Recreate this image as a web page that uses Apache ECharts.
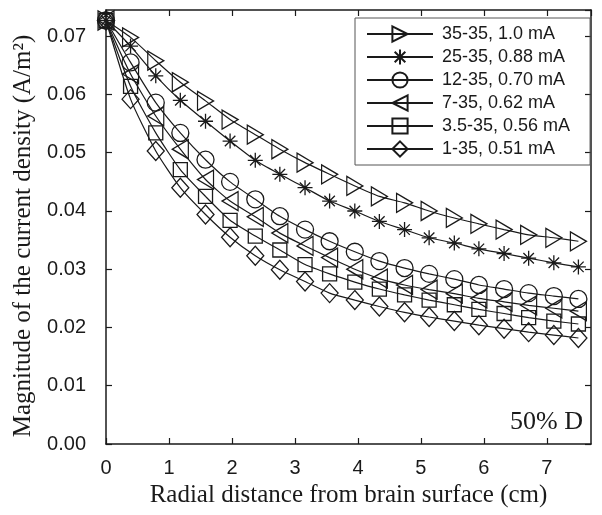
<!DOCTYPE html>
<html>
<head>
<meta charset="utf-8">
<script src="https://cdn.jsdelivr.net/npm/echarts@6/dist/echarts.min.js"></script>
<style>
  html, body { margin: 0; padding: 0; background: #fff; }
  #chart { width: 602px; height: 515px; }
</style>
</head>
<body>
<div id="chart"></div>
<script>
// radial distance (cm) of each sample
const distance = [0, 0.39, 0.79, 1.18, 1.58, 1.97, 2.37, 2.76, 3.16, 3.55,
  3.95, 4.34, 4.74, 5.13, 5.53, 5.92, 6.32, 6.71, 7.11, 7.5]

// current density magnitude (A/m^2)
const s35 = [0.0727, 0.0698, 0.0658, 0.0621, 0.0589, 0.0557, 0.0531, 0.0506, 0.0483, 0.0463,
  0.0443, 0.0425, 0.0414, 0.0400, 0.0388, 0.0378, 0.0368, 0.0359, 0.0354, 0.0348]
const s25 = [0.0727, 0.0683, 0.0632, 0.0590, 0.0554, 0.0520, 0.0487, 0.0463, 0.0440, 0.0417,
  0.0400, 0.0382, 0.0368, 0.0354, 0.0345, 0.0335, 0.0327, 0.0319, 0.0311, 0.0304]
const s12 = [0.0727, 0.0655, 0.0586, 0.0534, 0.0488, 0.0450, 0.0420, 0.0391, 0.0368, 0.0348,
  0.0330, 0.0314, 0.0302, 0.0292, 0.0283, 0.0273, 0.0266, 0.0259, 0.0254, 0.0249]
const s7 = [0.0727, 0.0635, 0.0563, 0.0506, 0.0454, 0.0417, 0.0390, 0.0362, 0.0340, 0.0320,
  0.0300, 0.0284, 0.0273, 0.0265, 0.0258, 0.0250, 0.0244, 0.0238, 0.0233, 0.0228]
const s35b = [0.0727, 0.0614, 0.0534, 0.0471, 0.0425, 0.0384, 0.0357, 0.0333, 0.0308, 0.0292,
  0.0278, 0.0266, 0.0256, 0.0247, 0.0239, 0.0231, 0.0224, 0.0217, 0.0211, 0.0206]
const s1 = [0.0727, 0.0592, 0.0503, 0.0440, 0.0394, 0.0355, 0.0323, 0.0299, 0.0279, 0.0259,
  0.0247, 0.0236, 0.0226, 0.0218, 0.0211, 0.0204, 0.0198, 0.0192, 0.0187, 0.0182]

const names = ['35-35, 1.0 mA', '25-35, 0.88 mA', '12-35, 0.70 mA', '7-35, 0.62 mA', '3.5-35, 0.56 mA', '1-35, 0.51 mA']
const values = [s35, s25, s12, s7, s35b, s1]

const symbols = [
  ['path://M0,0L10,6L0,12Z', [16, 19]],
  ['path://M0,5L10,5M5,0L5,10M1.5,1.5L8.5,8.5M8.5,1.5L1.5,8.5', 15],
  ['circle', 17],
  ['path://M10,0L0,6L10,12Z', [16, 19]],
  ['rect', 14],
  ['diamond', [17, 19]]
]

const sans = 'Liberation Sans, Arial, sans-serif'
const serif = 'Liberation Serif, Times New Roman, serif'
const ink = '#1a1a1a'

let myChart = echarts.init(document.getElementById('chart'))

const series = names.map((name, i) => ({
  name: name,
  type: 'line',
  data: distance.map((d, k) => [d, values[i][k]]),
  symbol: symbols[i][0],
  symbolSize: symbols[i][1],
  showAllSymbol: true,
  smooth: 0.2,
  clip: false,
  lineStyle: { color: ink, width: 1.2 },
  itemStyle: { color: 'transparent', borderColor: ink, borderWidth: 1.3 },
  emphasis: { disabled: true }
}))

const tickStyle = { inside: true, length: 6, lineStyle: { color: ink, width: 1.2 } }

const option = {
  animation: false,
  grid: { left: 106, right: 11, top: 10, bottom: 71 },
  legend: {
    data: names,
    orient: 'vertical',
    left: 355,
    top: 18,
    padding: [7, 20, 7, 11],
    itemWidth: 66,
    itemHeight: 19,
    itemGap: 5,
    borderColor: '#555',
    borderWidth: 1,
    textStyle: { fontFamily: sans, fontSize: 18, color: ink, padding: [0, 0, 0, 4] }
  },
  xAxis: [
    {
      type: 'value', min: 0, max: 7.7, interval: 1,
      name: 'Radial distance from brain surface (cm)',
      nameLocation: 'middle', nameGap: 39,
      nameTextStyle: { fontFamily: serif, fontSize: 25, color: ink },
      axisLine: { lineStyle: { color: ink, width: 1.5 } },
      axisTick: tickStyle,
      axisLabel: { fontFamily: sans, fontSize: 20, color: ink, margin: 14, showMaxLabel: false },
      splitLine: { show: false }
    },
    {
      type: 'value', min: 0, max: 7.7, interval: 1, position: 'top',
      axisLine: { onZero: false, lineStyle: { color: ink, width: 1.5 } },
      axisTick: tickStyle,
      axisLabel: { show: false },
      splitLine: { show: false }
    }
  ],
  yAxis: [
    {
      type: 'value', min: 0, max: 0.0745, interval: 0.01,
      name: 'Magnitude of the current density (A/m²)',
      nameLocation: 'middle', nameGap: 67,
      nameTextStyle: { fontFamily: serif, fontSize: 25, color: ink, padding: [0, 18, 0, 0] },
      axisLine: { show: true, lineStyle: { color: ink, width: 1.5 } },
      axisTick: tickStyle,
      axisLabel: { fontFamily: sans, fontSize: 20, color: ink, margin: 20, showMaxLabel: false,
        formatter: v => v.toFixed(2) },
      splitLine: { show: false }
    },
    {
      type: 'value', min: 0, max: 0.0745, interval: 0.01, position: 'right',
      axisLine: { show: true, onZero: false, lineStyle: { color: ink, width: 1.5 } },
      axisTick: tickStyle,
      axisLabel: { show: false },
      splitLine: { show: false }
    }
  ],
  graphic: [
    {
      type: 'text', left: 510, top: 409,
      style: { text: '50% D', fontFamily: serif, fontSize: 26, fill: ink }
    }
  ],
  series: series
}
myChart.setOption(option)
window.addEventListener('resize', () => myChart.resize())
</script>
</body>
</html>
